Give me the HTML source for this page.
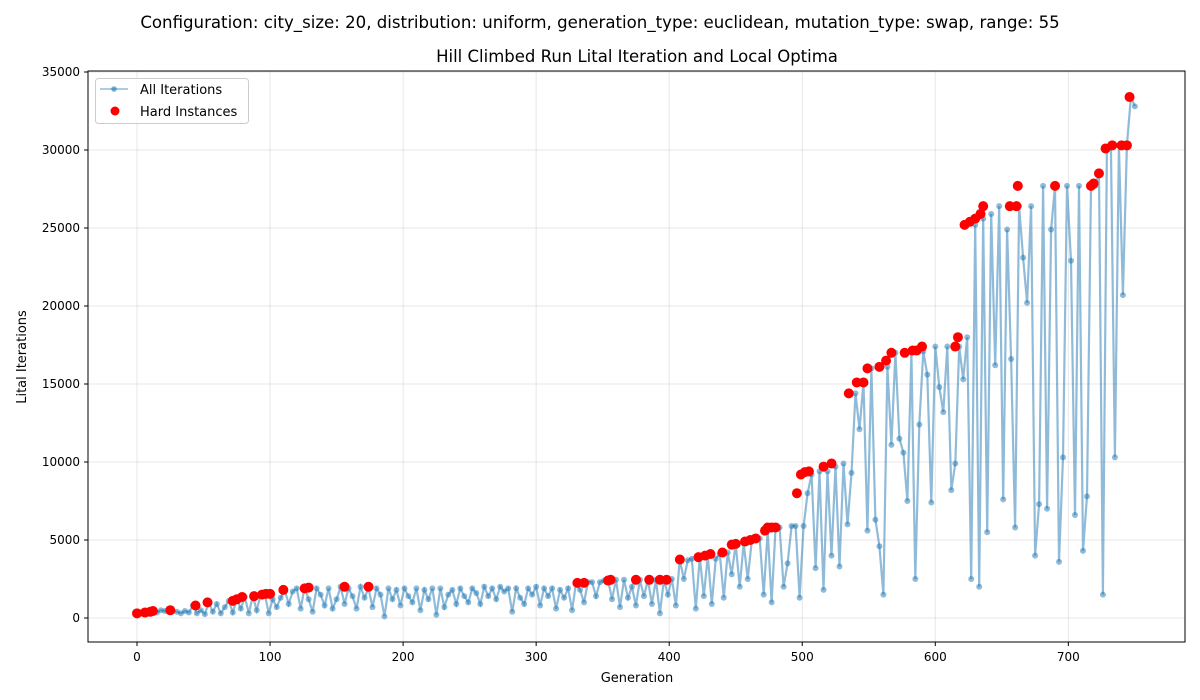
<!DOCTYPE html>
<html><head><meta charset="utf-8"><style>
body{margin:0;background:#fff;font-family:"DejaVu Sans","Liberation Sans",sans-serif}
svg{display:block}
</style></head><body>
<svg id="chart" width="1200" height="700" xmlns="http://www.w3.org/2000/svg" font-family="DejaVu Sans, Liberation Sans, sans-serif">
<text x="600" y="28" text-anchor="middle" font-size="16.6">Configuration: city_size: 20, distribution: uniform, generation_type: euclidean, mutation_type: swap, range: 55</text>
<text x="637" y="62" text-anchor="middle" font-size="16.5">Hill Climbed Run Lital Iteration and Local Optima</text>
<text x="637" y="682" text-anchor="middle" font-size="13">Generation</text>
<text transform="translate(26,357) rotate(-90)" text-anchor="middle" font-size="13">Lital Iterations</text>
<g id="grid"></g>
<g id="series"></g>
<g id="hard"></g>
<rect x="88" y="71" width="1097" height="571" fill="none" stroke="#000" stroke-width="1"/>
<g id="ticks"></g>
<g>
<rect x="95.5" y="78.5" width="153" height="45" rx="3" fill="#fff" fill-opacity="0.8" stroke="#ccc"/>
<line x1="100" y1="89" x2="128" y2="89" stroke="#1f77b4" stroke-opacity="0.5" stroke-width="1.5"/>
<circle cx="114" cy="89" r="2.8" fill="#1f77b4" fill-opacity="0.6"/>
<text x="140" y="94" font-size="13">All Iterations</text>
<circle cx="115" cy="111" r="4.5" fill="red"/>
<text x="140" y="116" font-size="13">Hard Instances</text>
</g>
</svg>
<script>
const NS="http://www.w3.org/2000/svg";
const genStep=3;
const allValues=[
300,350,400,450,400,350,500,450,400,450,
400,300,450,350,800,300,500,250,1000,400,
900,300,700,1100,350,1200,600,1350,300,1400,
500,1500,1550,300,1200,700,1300,1800,900,1700,
1900,600,1950,1200,400,1900,1500,800,1900,600,
1200,2000,900,1900,1400,600,2000,1300,1900,700,
1900,1500,100,1900,1200,1800,800,1900,1400,1000,
1900,500,1800,1200,1900,200,1900,700,1500,1800,
900,1900,1400,1000,1900,1600,900,2000,1400,1900,
1200,2000,1700,1900,400,1900,1300,900,1900,1500,
2000,800,1900,1400,1900,600,1800,1300,1900,500,
2250,1800,1000,2300,2300,1400,2300,2400,2450,1200,
2450,700,2450,1300,2000,800,2450,1400,2450,900,
2450,300,2450,1500,2500,800,3750,2500,3700,3800,
600,3900,1400,4000,900,3800,4100,1300,4200,2800,
4750,2000,4800,2500,4900,5000,5100,1500,5600,1000,
5800,5800,2000,3500,5900,5900,1300,5900,8000,9200,
3200,9400,1800,9400,4000,9700,3300,9900,6000,9300,
14400,12100,15100,5600,16000,6300,4600,1500,16100,11100,
17000,11500,10600,7500,17000,2500,12400,17100,15600,7400,
17400,14800,13200,17400,8200,9900,17400,15300,18000,2500,
25200,2000,25600,5500,25900,16200,26400,7600,24900,16600,
5800,26400,23100,20200,26400,4000,7300,27700,7000,24900,
27700,3600,10300,27700,22900,6600,27700,4300,7800,27700,
27700,28500,1500,30100,30300,10300,30300,20700,30300,33400,32800];
const hardGens=[0,6,10,12,25,44,53,72,75,79,88,94,97,100,110,126,129,156,174,331,336,354,356,375,385,393,398,408,422,427,431,440,447,450,457,461,465,472,474,477,480,496,499,502,505,516,522,535,541,546,549,558,563,567,577,583,586,590,615,617,622,626,630,634,636,656,661,662,690,717,719,723,728,733,740,744,746];
const hardValues=[300,350,400,450,500,800,1000,1100,1200,1350,1400,1500,1550,1550,1800,1900,1950,2000,2000,2250,2250,2400,2450,2450,2450,2450,2450,3750,3900,4000,4100,4200,4700,4750,4900,5000,5100,5600,5800,5800,5800,8000,9200,9350,9400,9700,9900,14400,15100,15100,16000,16100,16500,17000,17000,17150,17150,17400,17400,18000,25200,25400,25600,25900,26400,26400,26400,27700,27700,27700,27850,28500,30100,30300,30300,30300,33400];
const xTicks=[0,100,200,300,400,500,600,700];
const yTicks=[0,5000,10000,15000,20000,25000,30000,35000];
const X=g=>137+g*1.3305, Y=v=>618-v*0.0156;
const grid=document.getElementById('grid'),ticks=document.getElementById('ticks');
function mk(tag,attrs,parent){const e=document.createElementNS(NS,tag);for(const k in attrs)e.setAttribute(k,attrs[k]);parent.appendChild(e);return e;}
xTicks.forEach(t=>{const x=X(t);
const gl=mk('line',{x1:x,x2:x,y1:71,y2:642,stroke:'#b0b0b0','stroke-opacity':0.3},grid);

const tk=mk('line',{x1:x,x2:x,y1:642,y2:646,stroke:'#000'},ticks);

const tx=mk('text',{x:x,y:661,'text-anchor':'middle','font-size':12},ticks);tx.textContent=t;
});
yTicks.forEach(t=>{const y=Y(t);
const gl=mk('line',{x1:88,x2:1185,y1:y,y2:y,stroke:'#b0b0b0','stroke-opacity':0.3},grid);

const tk=mk('line',{x1:84,x2:88,y1:y,y2:y,stroke:'#000'},ticks);

const tx=mk('text',{x:80,y:y+4,'text-anchor':'end','font-size':12},ticks);tx.textContent=t;
});
const ser=document.getElementById('series');
const pts=allValues.map((v,i)=>X(i*genStep).toFixed(1)+','+Y(v).toFixed(1)).join(' ');
const pl=mk('polyline',{points:pts,fill:'none',stroke:'#1f77b4','stroke-opacity':0.5,'stroke-width':2.2},ser);

allValues.forEach((v,i)=>{const c=mk('circle',{cx:X(i*genStep),cy:Y(v),r:3,fill:'#1f77b4','fill-opacity':0.5},ser);
});
const hd=document.getElementById('hard');
hardGens.forEach((g,i)=>{const c=mk('circle',{cx:X(g),cy:Y(hardValues[i]),r:5,fill:'red'},hd);
});
</script>
</body></html>
